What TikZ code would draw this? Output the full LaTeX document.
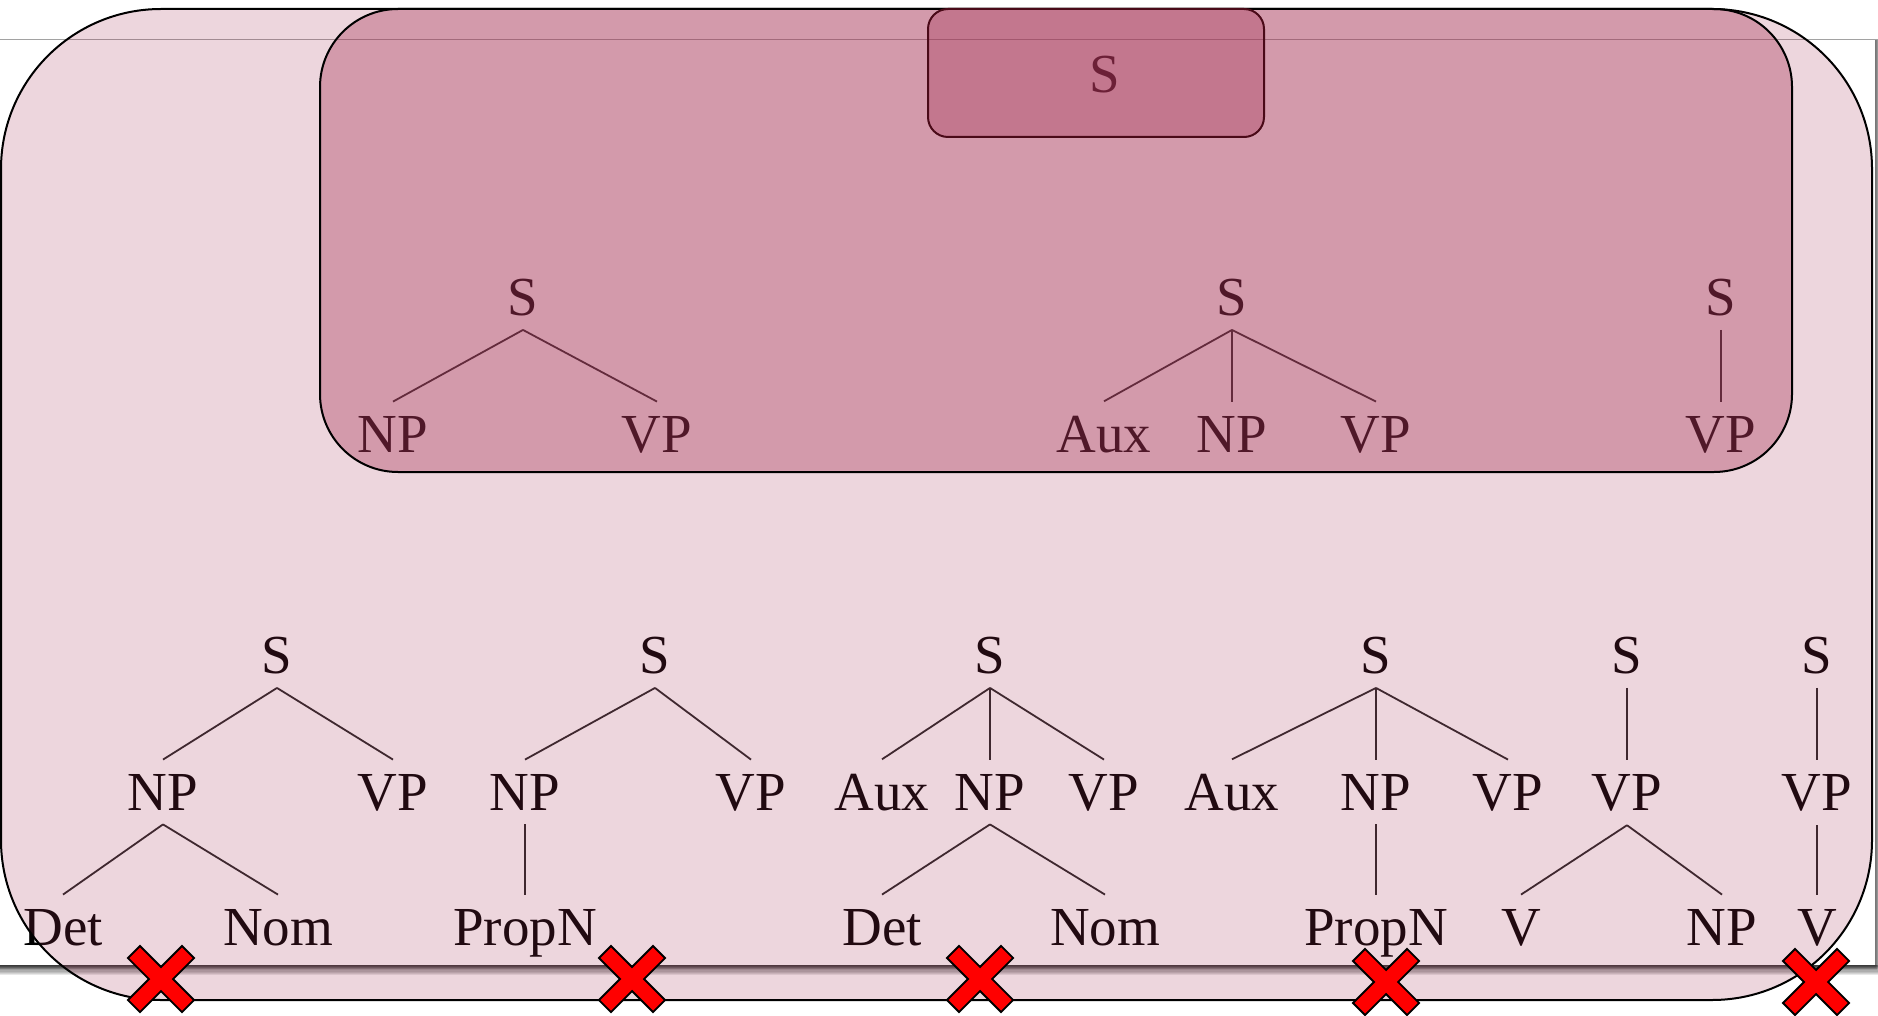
\documentclass[tikz,border=0pt]{standalone}
\usepackage{fontspec}
\setmainfont{Liberation Serif}
\definecolor{rose}{HTML}{A53255}
\definecolor{boxedge}{HTML}{4A0A18}
\definecolor{xred}{HTML}{FF0000}
\begin{document}
\begin{tikzpicture}[x=0.5pt,y=-0.5pt,
  lbl/.style={anchor=base, inner sep=7pt, font=\fontsize{27.5pt}{30pt}\selectfont, text=black},
  branch/.style={draw=black!85, line width=0.9pt},
  outerzone/.style={fill=rose, fill opacity=0.2, draw=black, line width=1pt, rounded corners=80pt},
  innerzone/.style={fill=rose, fill opacity=0.36, draw=black, line width=1pt, rounded corners=39pt},
  topzone/.style={fill=rose, fill opacity=0.33, draw=boxedge, line width=1pt, rounded corners=10pt},
  crossmark/.style={fill=xred, draw=black, line width=0.9pt, line join=miter},
  redcross/.pic={\path[crossmark, rotate=45] (38.2,8.5) -- (8.5,8.5) -- (8.5,38.2) -- (-8.5,38.2) -- (-8.5,8.5) -- (-38.2,8.5) -- (-38.2,-8.5) -- (-8.5,-8.5) -- (-8.5,-38.2) -- (8.5,-38.2) -- (8.5,-8.5) -- (38.2,-8.5) -- cycle;}
]
\useasboundingbox (0,0) rectangle (1878,1016);
\fill[white] (0,0) rectangle (1878,1016);

% screenshot panel with soft shadow
\foreach \i in {1,...,10}
  \fill[black, opacity=0.07] (0,40-\i*0.12) rectangle (1875+\i*0.8,965+\i*0.4);
\foreach \i in {1,...,8}
  \fill[black, opacity=0.09] (0,965) rectangle (1875+\i*0.6,965+\i*1.3);
\fill[white] (0,40) rectangle (1875,965);

% top S
\node[lbl] (ts) at (1105,93) {S};

% middle row trees
\node[lbl] (m1s) at (523,315) {S};
\node[lbl] (m1np) at (393,452) {NP};
\node[lbl] (m1vp) at (657,452) {VP};
\draw[branch] (m1s.south) -- (m1np.north);
\draw[branch] (m1s.south) -- (m1vp.north);

\node[lbl] (m2s) at (1232,315) {S};
\node[lbl] (m2aux) at (1104,452) {Aux};
\node[lbl] (m2np) at (1232,452) {NP};
\node[lbl] (m2vp) at (1376,452) {VP};
\draw[branch] (m2s.south) -- (m2aux.north);
\draw[branch] (m2s.south) -- (m2np.north);
\draw[branch] (m2s.south) -- (m2vp.north);

\node[lbl] (m3s) at (1721,315) {S};
\node[lbl] (m3vp) at (1721,452) {VP};
\draw[branch] (m3s.south) -- (m3vp.north);

% bottom row trees
\node[lbl] (as) at (277,673) {S};
\node[lbl] (anp) at (163,810) {NP};
\node[lbl] (avp) at (393,810) {VP};
\node[lbl] (adet) at (63,945) {Det};
\node[lbl] (anom) at (278,945) {Nom};
\draw[branch] (as.south) -- (anp.north);
\draw[branch] (as.south) -- (avp.north);
\draw[branch] (anp.south) -- (adet.north);
\draw[branch] (anp.south) -- (anom.north);

\node[lbl] (bs) at (655,673) {S};
\node[lbl] (bnp) at (525,810) {NP};
\node[lbl] (bvp) at (751,810) {VP};
\node[lbl] (bpropn) at (525,945) {PropN};
\draw[branch] (bs.south) -- (bnp.north);
\draw[branch] (bs.south) -- (bvp.north);
\draw[branch] (bnp.south) -- (bpropn.north);

\node[lbl] (cs) at (990,673) {S};
\node[lbl] (caux) at (882,810) {Aux};
\node[lbl] (cnp) at (990,810) {NP};
\node[lbl] (cvp) at (1104,810) {VP};
\node[lbl] (cdet) at (882,945) {Det};
\node[lbl] (cnom) at (1105,945) {Nom};
\draw[branch] (cs.south) -- (caux.north);
\draw[branch] (cs.south) -- (cnp.north);
\draw[branch] (cs.south) -- (cvp.north);
\draw[branch] (cnp.south) -- (cdet.north);
\draw[branch] (cnp.south) -- (cnom.north);

\node[lbl] (ds) at (1376,673) {S};
\node[lbl] (daux) at (1232,810) {Aux};
\node[lbl] (dnp) at (1376,810) {NP};
\node[lbl] (dvp) at (1508,810) {VP};
\node[lbl] (dpropn) at (1376,945) {PropN};
\draw[branch] (ds.south) -- (daux.north);
\draw[branch] (ds.south) -- (dnp.north);
\draw[branch] (ds.south) -- (dvp.north);
\draw[branch] (dnp.south) -- (dpropn.north);

\node[lbl] (es) at (1627,673) {S};
\node[lbl] (evp) at (1627,810) {VP};
\node[lbl] (ev) at (1521,945) {V};
\node[lbl] (enp) at (1722,945) {NP};
\draw[branch] (es.south) -- (evp.north);
\draw[branch] (evp.south) -- (ev.north);
\draw[branch] (evp.south) -- (enp.north);

\node[lbl] (fs) at (1817,673) {S};
\node[lbl] (fvp) at (1817,810) {VP};
\node[lbl] (fv) at (1817,945) {V};
\draw[branch] (fs.south) -- (fvp.north);
\draw[branch] (fvp.south) -- (fv.north);

% translucent highlight zones
\path[outerzone] (1,9) rectangle (1872,1000);
\path[innerzone] (320,9) rectangle (1792,472);
\path[topzone] (928,9) rectangle (1264,137);

% red crosses
\pic at (161,979) {redcross};
\pic at (632,979) {redcross};
\pic at (980,979) {redcross};
\pic at (1386,982) {redcross};
\pic at (1816,982) {redcross};
\end{tikzpicture}
\end{document}
